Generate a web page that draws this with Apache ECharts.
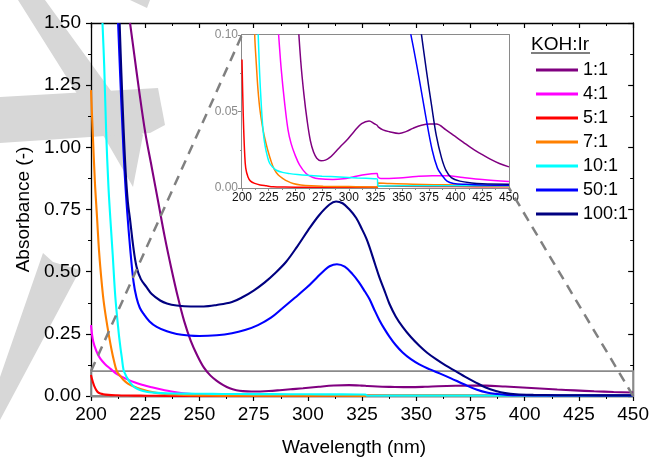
<!DOCTYPE html>
<html>
<head>
<meta charset="utf-8">
<script src="https://cdn.jsdelivr.net/npm/echarts@6/dist/echarts.min.js"></script>
<style>
  html, body { margin: 0; padding: 0; background: #fff; }
  #chart { width: 652px; height: 462px; }
</style>
</head>
<body>
<div id="chart"></div>
<script>
// KOH:Ir ratios and their trace colours
const ratios = ['1:1', '4:1', '5:1', '7:1', '10:1', '50:1', '100:1'];
const ratioColors = ['#800080', '#ff00ff', '#ff0000', '#ff8000', '#00ffff', '#0000ff', '#000080'];

// Wavelength axis ticks (nm)
const wavelengthTicks = [200, 225, 250, 275, 300, 325, 350, 375, 400, 425, 450];
// Absorbance ticks, full range and zoomed panel
const absorbanceTicks = [0, 0.25, 0.5, 0.75, 1.0, 1.25, 1.5];
const zoomAbsorbanceTicks = [0, 0.05, 0.1];

// UV-Vis spectra, [wavelength (nm), absorbance]
const r1_1 = [[218,1.50],[220,1.37],[222,1.24],[225,1.06],[228,0.92],[231,0.78],[234,0.64],[237,0.515],[240,0.40],[243,0.30],[246,0.222],[249,0.163],[252,0.115],[255,0.083],[258,0.061],[261,0.044],[264,0.031],[267,0.0235],[270,0.0195],[274,0.0178],[278,0.0182],[282,0.0198],[287,0.0232],[292,0.027],[297.8,0.031],[305,0.037],[312,0.042],[319,0.0438],[324,0.042],[326.5,0.041],[327.5,0.040],[332,0.038],[338,0.0368],[347,0.0357],[354,0.037],[360,0.039],[368,0.041],[376,0.0418],[382,0.0418],[391,0.038],[399,0.034],[407,0.030],[415,0.026],[423,0.0226],[432,0.019],[441,0.016],[450,0.0138]];

const r4_1 = [[200,0.285],[201,0.22],[202.5,0.18],[204.3,0.15],[206.5,0.128],[208.9,0.11],[212,0.088],[216,0.07],[220,0.055],[224,0.044],[228,0.035],[232,0.027],[236,0.02],[240,0.014],[245,0.009],[250,0.006],[260,0.004],[280,0.003],[300,0.0025],[350,0.002],[400,0.0015],[450,0.001]];

// 4:1 trace as plotted in the 0-0.10 detail panel
const r4_1Detail = [[233,0.112],[234.3,0.1],[236.8,0.077],[240,0.055],[243.1,0.038],[246,0.029],[250,0.021],[254,0.015],[260,0.0095],[266,0.007],[272,0.006],[285,0.0055],[295,0.006],[304,0.0072],[316,0.0088],[325.8,0.0094],[326.6,0.0094],[327.3,0.0072],[330,0.0062],[347,0.0066],[363,0.0075],[378,0.008],[392,0.008],[407,0.0068],[425,0.0055],[450,0.0042]];

const r5_1 = [[200,0.084],[200.4,0.07],[200.9,0.055],[201.5,0.04],[202.5,0.0225],[203.5,0.013],[205.6,0.0072],[208,0.0045],[211.9,0.003],[217,0.002],[222.8,0.0014],[229,0.0008],[240,0.0006],[260,0.0005],[300,0.0005],[326.5,0.0005],[327.5,0.0012],[350,0.0011],[400,0.0009],[450,0.0008]];

const r7_1 = [[200,1.23],[200.8,1.06],[201.8,0.86],[202.8,0.716],[203.5,0.61],[204.3,0.517],[205,0.45],[205.8,0.384],[207,0.31],[208.1,0.252],[209.5,0.185],[210.5,0.145],[211.9,0.10],[213.5,0.08],[215,0.064],[217,0.05],[219.7,0.038],[221.5,0.032],[224,0.025],[227,0.018],[230,0.0125],[234,0.0085],[238.4,0.0062],[243,0.0043],[247.8,0.003],[255,0.002],[265,0.0014],[276,0.0011],[300,0.0009],[326.5,0.0007],[327.5,0.0033],[338,0.0029],[360,0.0025],[380,0.0022],[400,0.0019],[425,0.0016],[450,0.0013]];

const r10_1 = [[205.3,1.5],[206.1,1.325],[207,1.06],[208,0.85],[208.9,0.716],[210,0.57],[211.2,0.40],[212.7,0.26],[213.5,0.2],[214.2,0.155],[215,0.105],[215.8,0.088],[216.5,0.075],[218,0.055],[219.7,0.038],[221.5,0.028],[224,0.02],[226,0.016],[229,0.0135],[232.2,0.0116],[238,0.0102],[244.7,0.0094],[252,0.0088],[260.3,0.0083],[275,0.0077],[291.5,0.0072],[308,0.0066],[324,0.0061],[326.5,0.006],[327.5,0.0012],[350,0.0015],[400,0.0015],[450,0.0014]];

const r50_1 = [[212.5,1.5],[213.5,1.28],[214.5,1.08],[215.5,0.9],[216.7,0.74],[218,0.6],[219.6,0.46],[221,0.395],[222.5,0.355],[224.2,0.331],[227,0.30],[230.3,0.278],[235,0.26],[239.5,0.249],[245,0.243],[250,0.241],[258,0.244],[265,0.252],[271,0.265],[277,0.285],[283,0.315],[288,0.351],[294,0.395],[299.6,0.437],[304,0.475],[307.3,0.503],[310,0.522],[313.4,0.53],[317,0.52],[320.6,0.49],[323.5,0.458],[326.3,0.42],[328.4,0.39],[330.5,0.35],[333,0.305],[335.3,0.27],[337.6,0.239],[340.5,0.205],[343.7,0.175],[347.5,0.148],[351.4,0.127],[356,0.108],[361,0.09],[366,0.071],[372,0.047],[378,0.025],[383,0.013],[387,0.0085],[392,0.0045],[398,0.003],[410,0.0024],[425,0.002],[450,0.0018]];

const r100_1 = [[213.2,1.5],[214,1.3],[215,1.08],[216,0.9],[217,0.78],[218,0.71],[219.5,0.60],[221,0.52],[223,0.47],[225.7,0.437],[228,0.41],[231.9,0.384],[235,0.372],[239.5,0.364],[246,0.36],[252,0.36],[258,0.366],[265,0.378],[270,0.398],[275,0.424],[280,0.456],[285,0.495],[290,0.54],[295,0.60],[300,0.665],[305,0.725],[310,0.77],[313,0.782],[316,0.775],[319,0.752],[322.3,0.716],[325,0.67],[326.9,0.635],[328.4,0.60],[331,0.53],[333,0.477],[335.5,0.42],[337.6,0.371],[340.5,0.32],[343.7,0.278],[347.5,0.237],[351.4,0.202],[355,0.174],[359.1,0.148],[363.5,0.123],[368.3,0.099],[372.6,0.077],[377.5,0.054],[382,0.034],[386.7,0.02],[391,0.0115],[396,0.0068],[404,0.0045],[415,0.0033],[425,0.0028],[450,0.0025]];

const spectra = [r1_1, r4_1, r5_1, r7_1, r10_1, r50_1, r100_1];
const detailSpectra = [r1_1, r4_1Detail, r5_1, r7_1, r10_1, r50_1, r100_1];

// Region of the full plot that the detail panel enlarges
const zoomBox = { x0: 200, x1: 450, y0: 0, y1: 0.1 };

const FONT = '"Liberation Sans", Arial, sans-serif';
const chart = echarts.init(document.getElementById('chart'), null, { renderer: 'canvas' });

function wlAxis(grid, pos, opts) {
  return Object.assign({
    type: 'value', gridIndex: grid, position: pos,
    min: wavelengthTicks[0], max: wavelengthTicks[wavelengthTicks.length - 1],
    interval: wavelengthTicks[1] - wavelengthTicks[0],
    splitLine: { show: false }
  }, opts);
}
function absAxis(grid, pos, ticks, opts) {
  return Object.assign({
    type: 'value', gridIndex: grid, position: pos,
    min: ticks[0], max: ticks[ticks.length - 1], interval: ticks[1] - ticks[0],
    splitLine: { show: false }
  }, opts);
}

const black = { color: '#000', width: 1.3 };
const gray = { color: '#8a8a8a', width: 2 };

const xAxes = [
  wlAxis(0, 'bottom', {
    axisLine: { show: true, onZero: false, lineStyle: black },
    axisTick: { show: true, length: 5, lineStyle: { color: '#000', width: 1.2 } },
    minorTick: { show: true, splitNumber: 2, length: 3, lineStyle: { color: '#000', width: 1 } },
    axisLabel: { fontSize: 19, color: '#000', margin: 9, fontFamily: FONT },
    name: 'Wavelength (nm)', nameLocation: 'middle', nameGap: 42,
    nameTextStyle: { fontSize: 19, color: '#000', fontFamily: FONT, padding: [0, 16, 0, 0] }
  }),
  wlAxis(0, 'top', {
    axisLine: { show: true, onZero: false, lineStyle: black },
    axisTick: { show: true, inside: true, length: 5, lineStyle: { color: '#000', width: 1.2 } },
    minorTick: { show: true, splitNumber: 2, length: 3, lineStyle: { color: '#000', width: 1 } },
    axisLabel: { show: false }
  }),
  wlAxis(1, 'bottom', {
    axisLine: { show: true, onZero: false, lineStyle: gray },
    axisTick: { show: true, length: 3, lineStyle: { color: '#8a8a8a', width: 1 } },
    minorTick: { show: true, splitNumber: 2, length: 2, lineStyle: { color: '#8a8a8a', width: 1 } },
    axisLabel: { fontSize: 12, color: '#111', margin: 4, fontFamily: FONT }
  }),
  wlAxis(1, 'top', {
    axisLine: { show: true, onZero: false, lineStyle: gray },
    axisTick: { show: true, inside: true, length: 3, lineStyle: { color: '#8a8a8a', width: 1 } },
    minorTick: { show: true, splitNumber: 2, length: 2, lineStyle: { color: '#8a8a8a', width: 1 } },
    axisLabel: { show: false }
  })
];

const yAxes = [
  absAxis(0, 'left', absorbanceTicks, {
    axisLine: { show: true, onZero: false, lineStyle: black },
    axisTick: { show: true, length: 5, lineStyle: { color: '#000', width: 1.2 } },
    minorTick: { show: true, splitNumber: 2, length: 3, lineStyle: { color: '#000', width: 1 } },
    axisLabel: { fontSize: 19, color: '#000', margin: 10, fontFamily: FONT, formatter: v => v.toFixed(2) },
    name: 'Absorbance (-)', nameLocation: 'middle', nameGap: 53, nameRotate: 90,
    nameTextStyle: { fontSize: 19, color: '#000', fontFamily: FONT }
  }),
  absAxis(0, 'right', absorbanceTicks, {
    axisLine: { show: true, onZero: false, lineStyle: black },
    axisTick: { show: true, inside: true, length: 5, lineStyle: { color: '#000', width: 1.2 } },
    minorTick: { show: true, splitNumber: 2, length: 3, lineStyle: { color: '#000', width: 1 } },
    axisLabel: { show: false }
  }),
  absAxis(1, 'left', zoomAbsorbanceTicks, {
    axisLine: { show: true, onZero: false, lineStyle: gray },
    axisTick: { show: true, length: 4, lineStyle: { color: '#8a8a8a', width: 1 } },
    minorTick: { show: true, splitNumber: 2, length: 2, lineStyle: { color: '#8a8a8a', width: 1 } },
    axisLabel: { fontSize: 12, color: '#8a8a8a', margin: 4, fontFamily: FONT, formatter: v => v.toFixed(2) }
  }),
  absAxis(1, 'right', zoomAbsorbanceTicks, {
    axisLine: { show: true, onZero: false, lineStyle: gray },
    axisTick: { show: true, inside: true, length: 4, lineStyle: { color: '#8a8a8a', width: 1 } },
    minorTick: { show: true, splitNumber: 2, length: 2, lineStyle: { color: '#8a8a8a', width: 1 } },
    axisLabel: { show: false }
  })
];

const series = [];
ratios.forEach((name, i) => {
  series.push({
    type: 'line', name, xAxisIndex: 0, yAxisIndex: 0, data: spectra[i],
    symbol: 'none', smooth: 0.35, clip: true,
    color: ratioColors[i], lineStyle: { color: ratioColors[i], width: 2.1 },
    z: 3 + i, silent: true,
    markArea: i === 0 ? {
      silent: true,
      itemStyle: { color: 'rgba(0,0,0,0)', borderColor: '#8a8a8a', borderWidth: 1.8 },
      data: [[{ coord: [zoomBox.x0, zoomBox.y0] }, { coord: [zoomBox.x1, zoomBox.y1] }]]
    } : undefined
  });
});
ratios.forEach((name, i) => {
  series.push({
    type: 'line', name, xAxisIndex: 2, yAxisIndex: 2, data: detailSpectra[i],
    symbol: 'none', smooth: 0.35, clip: true,
    color: ratioColors[i], lineStyle: { color: ratioColors[i], width: 1.5 },
    z: 3 + i, silent: true
  });
});

// Light grey background watermark shapes
const watermark = [
  [[18,0],[45,0],[143,135],[133,187],[103,135]],
  [[0,97],[158,88],[165,125],[150,133],[0,143]],
  [[130,0],[150,0],[147,8]],
  [[0,377],[43,253],[53,262],[80,270],[0,420]]
].map(pts => ({
  type: 'polygon', z: -1, silent: true,
  shape: { points: pts }, style: { fill: '#d7d7d7' }
}));

chart.setOption({
  animation: false,
  backgroundColor: '#fff',
  textStyle: { fontFamily: FONT },
  grid: [
    { left: 91, right: 17, top: 23, bottom: 62, containLabel: false },
    { left: 242, right: 143, top: 35, bottom: 274, containLabel: false,
      show: true, backgroundColor: '#fff', borderWidth: 0, z: 1 }
  ],
  xAxis: xAxes,
  yAxis: yAxes,
  legend: {
    data: ratios, orient: 'vertical', left: 531, top: 53,
    icon: 'rect', itemWidth: 42, itemHeight: 3, itemGap: 0,
    selectedMode: false,
    textStyle: { fontSize: 18, lineHeight: 24, color: '#000', fontFamily: FONT }
  },
  series,
  graphic: watermark
});

// Legend heading and the dashed guides joining the zoom box to the detail panel
const boxTopLeft = chart.convertToPixel({ xAxisIndex: 0, yAxisIndex: 0 }, [zoomBox.x0, zoomBox.y1]);
const boxBottomRight = chart.convertToPixel({ xAxisIndex: 0, yAxisIndex: 0 }, [zoomBox.x1, zoomBox.y0]);
const panelTopLeft = chart.convertToPixel({ xAxisIndex: 2, yAxisIndex: 2 }, [zoomBox.x0, zoomBox.y1]);
const panelBottomRight = chart.convertToPixel({ xAxisIndex: 2, yAxisIndex: 2 }, [zoomBox.x1, zoomBox.y0]);

const dashStyle = { stroke: '#808080', lineWidth: 2.5, lineDash: [10, 7] };
chart.setOption({
  graphic: watermark.concat([
    { type: 'line', z: 10, silent: true,
      shape: { x1: boxTopLeft[0], y1: boxTopLeft[1], x2: panelTopLeft[0], y2: panelTopLeft[1] }, style: dashStyle },
    { type: 'line', z: 10, silent: true,
      shape: { x1: boxBottomRight[0], y1: boxBottomRight[1], x2: panelBottomRight[0], y2: panelBottomRight[1] }, style: dashStyle },
    { type: 'text', z: 10, left: 531, top: 35, silent: true,
      style: { text: 'KOH:Ir', fontSize: 19, fill: '#000', fontFamily: FONT } },
    { type: 'line', z: 10, silent: true,
      shape: { x1: 531, y1: 53, x2: 590, y2: 53 }, style: { stroke: '#000', lineWidth: 1.2 } }
  ])
});
</script>
</body>
</html>
